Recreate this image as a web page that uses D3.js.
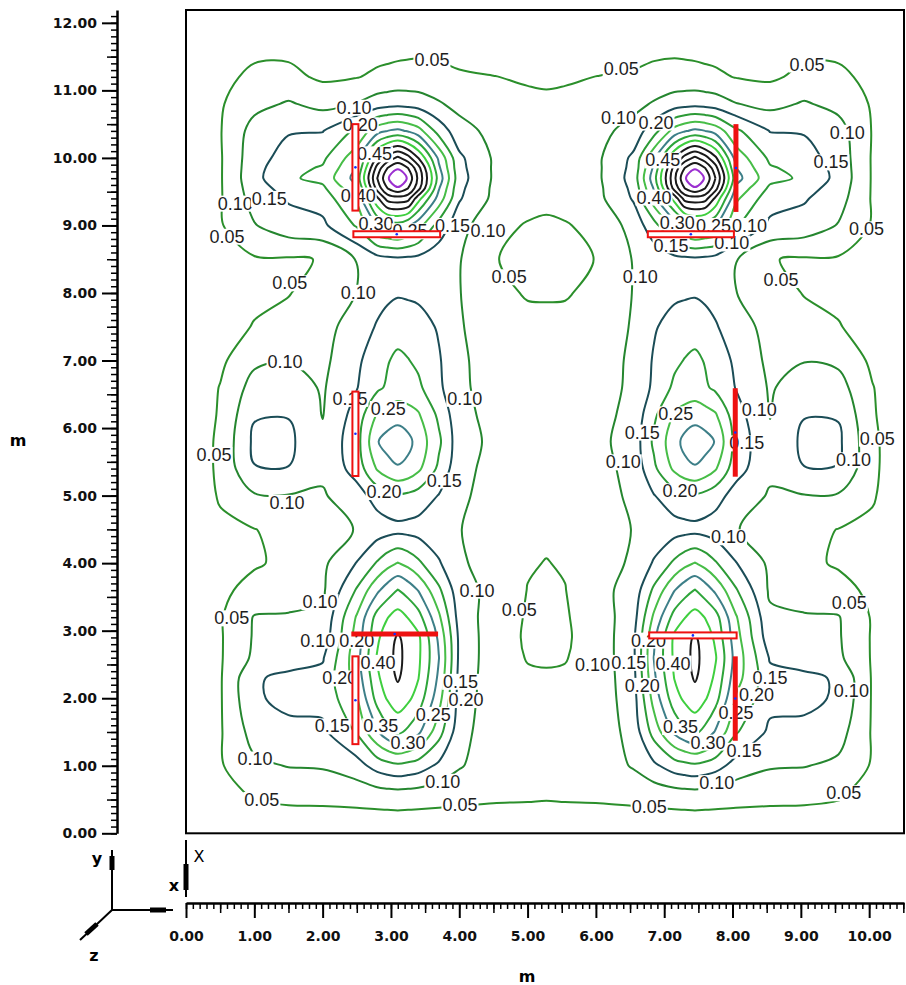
<!DOCTYPE html>
<html>
<head>
<meta charset="utf-8">
<title>Isolux contour</title>
<script src="https://cdn.jsdelivr.net/npm/d3@7"></script>
<style>
html,body{margin:0;padding:0;background:#fff;}
svg{display:block;}
</style>
</head>
<body>
<svg id="chart" width="906" height="985"></svg>
<script>
// ---------------- data ----------------
// grid knots in metres
const xKnots = [0,0.5,1.0,1.5,2.0,2.5,2.8,2.95,3.1,3.25,3.4,3.7,4.0,4.5,5.0,5.275,5.55,6.05,6.55,6.85,7.15,7.3,7.45,7.6,7.75,8.05,8.55,9.05,9.55,10.05,10.55];
const yKnots = [12.2,12.0,11.6,11.2,10.8,10.4,10.0,9.85,9.7,9.55,9.4,9.0,8.5,8.0,7.5,7.0,6.6,6.2,5.8,5.4,5.0,4.5,4.0,3.6,3.2,2.9,2.6,2.3,2.0,1.5,1.0,0.5,0.0];
// estimated value at each knot (rows follow yKnots, columns follow xKnots)
const illum = [
[0.005,0.01,0.012,0.013,0.013,0.013,0.014,0.0145,0.015,0.015,0.015,0.015,0.014,0.013,0.013, 0.013, 0.013,0.013,0.014,0.015,0.015,0.015,0.015,0.0145,0.014,0.013,0.013,0.013,0.012,0.01,0.005],
[0.008,0.014,0.018,0.02,0.02,0.02,0.021,0.0215,0.022,0.022,0.022,0.021,0.02,0.019,0.018, 0.018, 0.018,0.019,0.02,0.021,0.022,0.022,0.022,0.0215,0.021,0.02,0.02,0.02,0.018,0.014,0.008],
[0.012,0.025,0.038,0.04,0.034,0.033,0.036,0.038,0.04,0.041,0.042,0.04,0.034,0.028,0.026, 0.025, 0.026,0.028,0.034,0.04,0.042,0.041,0.04,0.038,0.036,0.033,0.034,0.04,0.038,0.025,0.012],
[0.015,0.035,0.062,0.062,0.042,0.048,0.058,0.061,0.064,0.066,0.068,0.064,0.056,0.051,0.045, 0.043, 0.045,0.051,0.056,0.064,0.068,0.066,0.064,0.061,0.058,0.048,0.042,0.062,0.062,0.035,0.015],
[0.015,0.045,0.085,0.105,0.085,0.102,0.125,0.131,0.135,0.131,0.125,0.105,0.085,0.07,0.06, 0.058, 0.06,0.07,0.085,0.105,0.125,0.131,0.135,0.131,0.125,0.102,0.085,0.105,0.085,0.045,0.015],
[0.015,0.047,0.12,0.146,0.148,0.21,0.28,0.30,0.31,0.295,0.27,0.18,0.12,0.085,0.07, 0.068, 0.07,0.085,0.12,0.18,0.27,0.295,0.31,0.30,0.28,0.21,0.148,0.146,0.12,0.047,0.015],
[0.015,0.045,0.13,0.17,0.19,0.28,0.46,0.52,0.56,0.52,0.45,0.29,0.16,0.095,0.075, 0.073, 0.075,0.095,0.16,0.29,0.45,0.52,0.56,0.52,0.46,0.28,0.19,0.17,0.13,0.045,0.015],
[0.015,0.045,0.133,0.185,0.205,0.30,0.52,0.60,0.64,0.60,0.52,0.31,0.165,0.095,0.073, 0.071, 0.073,0.095,0.165,0.31,0.52,0.60,0.64,0.60,0.52,0.30,0.205,0.185,0.133,0.045,0.015],
[0.015,0.045,0.135,0.192,0.215,0.32,0.55,0.64,0.72,0.64,0.54,0.33,0.17,0.095,0.07, 0.068, 0.07,0.095,0.17,0.33,0.54,0.64,0.72,0.64,0.55,0.32,0.215,0.192,0.135,0.045,0.015],
[0.015,0.045,0.128,0.17,0.19,0.29,0.52,0.60,0.64,0.60,0.52,0.305,0.162,0.092,0.067, 0.065, 0.067,0.092,0.162,0.305,0.52,0.60,0.64,0.60,0.52,0.29,0.19,0.17,0.128,0.045,0.015],
[0.015,0.045,0.12,0.155,0.17,0.26,0.44,0.52,0.53,0.52,0.42,0.28,0.155,0.09,0.065, 0.062, 0.065,0.09,0.155,0.28,0.42,0.52,0.53,0.52,0.44,0.26,0.17,0.155,0.12,0.045,0.015],
[0.012,0.045,0.097,0.13,0.14,0.205,0.305,0.32,0.33,0.305,0.27,0.18,0.12,0.062,0.047, 0.042, 0.047,0.062,0.12,0.18,0.27,0.305,0.33,0.32,0.305,0.205,0.14,0.13,0.097,0.045,0.012],
[0.01,0.035,0.045,0.045,0.052,0.103,0.13,0.137,0.14,0.138,0.135,0.12,0.103,0.052,0.04, 0.037, 0.04,0.052,0.103,0.12,0.135,0.138,0.14,0.137,0.13,0.103,0.052,0.045,0.045,0.035,0.01],
[0.01,0.035,0.042,0.048,0.07,0.101,0.13,0.14,0.145,0.143,0.14,0.12,0.102,0.06,0.047, 0.047, 0.047,0.06,0.102,0.12,0.14,0.143,0.145,0.14,0.13,0.101,0.07,0.048,0.042,0.035,0.01],
[0.01,0.035,0.052,0.065,0.085,0.12,0.155,0.168,0.18,0.176,0.17,0.145,0.105,0.07,0.06, 0.058, 0.06,0.07,0.105,0.145,0.17,0.176,0.18,0.168,0.155,0.12,0.085,0.065,0.052,0.035,0.01],
[0.01,0.04,0.09,0.098,0.088,0.14,0.18,0.197,0.21,0.202,0.19,0.155,0.11,0.075,0.06, 0.058, 0.06,0.075,0.11,0.155,0.19,0.202,0.21,0.197,0.18,0.14,0.088,0.098,0.09,0.04,0.01],
[0.01,0.052,0.12,0.125,0.095,0.148,0.19,0.207,0.22,0.217,0.21,0.16,0.11,0.08,0.06, 0.058, 0.06,0.08,0.11,0.16,0.21,0.217,0.22,0.207,0.19,0.148,0.095,0.125,0.12,0.052,0.01],
[0.01,0.055,0.146,0.148,0.098,0.17,0.255,0.27,0.28,0.27,0.255,0.19,0.115,0.085,0.065, 0.062, 0.065,0.085,0.115,0.19,0.255,0.27,0.28,0.27,0.255,0.17,0.098,0.148,0.146,0.055,0.01],
[0.01,0.06,0.16,0.16,0.11,0.18,0.297,0.32,0.33,0.315,0.28,0.21,0.12,0.09,0.07, 0.067, 0.07,0.09,0.12,0.21,0.28,0.315,0.33,0.32,0.297,0.18,0.11,0.16,0.16,0.06,0.01],
[0.01,0.06,0.148,0.149,0.11,0.17,0.255,0.28,0.295,0.285,0.26,0.19,0.115,0.085,0.065, 0.062, 0.065,0.085,0.115,0.19,0.26,0.285,0.295,0.28,0.255,0.17,0.11,0.149,0.148,0.06,0.01],
[0.01,0.055,0.095,0.098,0.095,0.13,0.17,0.185,0.195,0.19,0.18,0.148,0.11,0.08,0.06, 0.058, 0.06,0.08,0.11,0.148,0.18,0.19,0.195,0.185,0.17,0.13,0.095,0.098,0.095,0.055,0.01],
[0.01,0.04,0.049,0.062,0.075,0.103,0.125,0.131,0.135,0.133,0.13,0.12,0.102,0.075,0.058, 0.056, 0.058,0.075,0.102,0.12,0.13,0.133,0.135,0.131,0.125,0.103,0.075,0.062,0.049,0.04,0.01],
[0.01,0.035,0.045,0.06,0.09,0.152,0.205,0.232,0.252,0.235,0.21,0.155,0.11,0.072,0.053, 0.049, 0.053,0.072,0.11,0.155,0.21,0.235,0.252,0.232,0.205,0.152,0.09,0.06,0.045,0.035,0.01],
[0.01,0.04,0.065,0.08,0.092,0.205,0.29,0.325,0.352,0.33,0.298,0.21,0.12,0.085,0.049, 0.045, 0.049,0.085,0.12,0.21,0.298,0.33,0.352,0.325,0.29,0.205,0.092,0.08,0.065,0.04,0.01],
[0.01,0.045,0.103,0.104,0.11,0.255,0.37,0.398,0.42,0.398,0.37,0.26,0.13,0.075,0.046, 0.043, 0.046,0.075,0.13,0.26,0.37,0.398,0.42,0.398,0.37,0.255,0.11,0.104,0.103,0.045,0.01],
[0.01,0.045,0.105,0.11,0.12,0.27,0.39,0.43,0.455,0.435,0.41,0.29,0.14,0.07,0.045, 0.043, 0.045,0.07,0.14,0.29,0.41,0.435,0.455,0.43,0.39,0.27,0.12,0.11,0.105,0.045,0.01],
[0.01,0.045,0.11,0.13,0.145,0.28,0.405,0.435,0.462,0.435,0.41,0.302,0.14,0.07,0.048, 0.046, 0.048,0.07,0.14,0.302,0.41,0.435,0.462,0.435,0.405,0.28,0.145,0.13,0.11,0.045,0.01],
[0.01,0.045,0.145,0.16,0.165,0.27,0.39,0.43,0.455,0.43,0.402,0.29,0.135,0.07,0.055, 0.054, 0.055,0.07,0.135,0.29,0.402,0.43,0.455,0.43,0.39,0.27,0.165,0.16,0.145,0.045,0.01],
[0.01,0.045,0.145,0.16,0.165,0.245,0.37,0.405,0.43,0.41,0.38,0.27,0.13,0.07,0.056, 0.055, 0.056,0.07,0.13,0.27,0.38,0.41,0.43,0.405,0.37,0.245,0.165,0.16,0.145,0.045,0.01],
[0.01,0.045,0.12,0.14,0.14,0.205,0.295,0.335,0.36,0.34,0.31,0.22,0.12,0.068,0.055, 0.054, 0.055,0.068,0.12,0.22,0.31,0.34,0.36,0.335,0.295,0.205,0.14,0.14,0.12,0.045,0.01],
[0.01,0.045,0.09,0.102,0.105,0.13,0.17,0.182,0.19,0.184,0.175,0.14,0.105,0.07,0.055, 0.054, 0.055,0.07,0.105,0.14,0.175,0.184,0.19,0.182,0.17,0.13,0.105,0.102,0.09,0.045,0.01],
[0.008,0.035,0.051,0.055,0.056,0.058,0.06,0.061,0.062,0.061,0.06,0.058,0.056,0.053,0.052, 0.051, 0.052,0.053,0.056,0.058,0.06,0.061,0.062,0.061,0.06,0.058,0.056,0.055,0.051,0.035,0.008],
[0.005,0.01,0.02,0.025,0.025,0.025,0.025,0.025,0.025,0.025,0.025,0.025,0.025,0.025,0.025, 0.025, 0.025,0.025,0.025,0.025,0.025,0.025,0.025,0.025,0.025,0.025,0.025,0.025,0.02,0.01,0.005]
];
const levels = [0.05,0.10,0.15,0.20,0.25,0.30,0.35,0.40,0.45,0.50,0.55,0.60,0.65];
const levelColors = ["#2b8f2b","#25862f","#1b4d57","#2c9a36","#47bd47","#3d7f88","#2ea53a","#3fcf3f","#1a1a1a","#1a1a1a","#1a1a1a","#1a1a1a","#9b30d0"];
// contour labels: x (m), y (m), text
const labelX = [3.60,6.37,9.09, 2.46,2.55,2.76,2.52, 0.72,1.22,0.60, 2.78,3.28,4.42,3.90, 1.52,2.52,4.73,
  6.33,6.88,6.98,6.85,7.19,8.25,7.72,7.10,7.99,9.68,9.44,9.96,6.65,8.71,
  1.45,2.40,2.96,4.08,0.41,3.78,2.90,1.48,
  8.39,7.17,6.68,8.21,10.12,6.40,9.77,7.23,
  4.26,4.88,1.96,0.67,1.93,2.50,2.81,2.25,2.14,2.85,3.25,4.02,4.10,3.62,1.01,3.76,1.11,4.01,
  7.94,9.71,6.77,5.95,6.48,7.13,6.68,8.55,8.35,8.05,9.74,7.24,7.64,8.17,7.77,9.63,6.78];
const labelY = [11.45,11.33,11.39, 10.75,10.49,10.06,9.45, 9.33,9.40,8.84, 9.03,8.92,8.93,9.00, 8.15,8.01,8.24,
  10.60,10.53,9.97,9.42,9.05,9.00,9.00,8.71,8.74,10.38,9.94,8.95,8.24,8.20,
  6.98,6.44,6.29,6.44,5.61,5.23,5.06,4.90,
  6.27,6.21,5.94,5.78,5.85,5.50,5.53,5.07,
  3.60,3.31,3.43,3.19,2.86,2.86,2.53,2.30,1.59,1.59,1.35,2.25,1.98,1.76,1.10,0.77,0.50,0.42,
  4.39,3.41,2.86,2.50,2.53,2.52,2.19,2.30,2.05,1.79,2.12,1.58,1.35,1.23,0.75,0.60,0.39];
const labelText = ["0.05","0.05","0.05", "0.10","0.20","0.45","0.40", "0.10","0.15","0.05", "0.30","0.25","0.10","0.15", "0.05","0.10","0.05",
  "0.10","0.20","0.45","0.40","0.30","0.10","0.25","0.15","0.10","0.10","0.15","0.05","0.10","0.05",
  "0.10","0.15","0.25","0.10","0.05","0.15","0.20","0.10",
  "0.10","0.25","0.15","0.15","0.05","0.10","0.10","0.20",
  "0.10","0.05","0.10","0.05","0.10","0.20","0.40","0.20","0.15","0.35","0.30","0.15","0.20","0.25","0.10","0.10","0.05","0.05",
  "0.10","0.05","0.20","0.10","0.15","0.40","0.20","0.15","0.20","0.25","0.10","0.35","0.30","0.15","0.10","0.05","0.05"];
// luminaires (m)
const lampX1 = [2.48,2.45,8.05,6.76,2.48,8.04,2.42,2.48,6.78,8.04];
const lampY1 = [9.22,8.87,9.20,8.87,5.29,5.28,2.95,1.32,2.93,1.37];
const lampX2 = [2.48,3.72,8.05,8.02,2.48,8.04,3.69,2.48,8.06,8.04];
const lampY2 = [10.50,8.87,10.50,8.87,6.54,6.59,2.95,2.62,2.93,2.62];
const lampHollow = [true,true,false,true,true,false,false,true,true,false];
// axis ticks
const xTickValues = [0,1,2,3,4,5,6,7,8,9,10];
const yTickValues = [0,1,2,3,4,5,6,7,8,9,10,11,12];

// ---------------- drawing ----------------
const svg = d3.select("#chart");
const x = d3.scaleLinear().domain([0,10.51]).range([186,904]);
const y = d3.scaleLinear().domain([0,12.19]).range([833.3,10]);

svg.append("defs").append("clipPath").attr("id","plotClip")
  .append("rect").attr("x",186).attr("y",10).attr("width",718).attr("height",823.3);

// contours
const nx = xKnots.length, ny = yKnots.length;
const bands = d3.contours().size([nx,ny]).thresholds(levels)(illum.flat());
const along = (arr,u)=>{const i=Math.max(0,Math.min(arr.length-2,Math.floor(u)));return arr[i]+(arr[i+1]-arr[i])*(u-i);};
const ringLine = d3.line().curve(d3.curveCatmullRomClosed.alpha(0.5));
const gC = svg.append("g").attr("clip-path","url(#plotClip)");
bands.forEach(b=>{
  const k = levels.indexOf(b.value);
  b.coordinates.forEach(poly=>poly.forEach(ring=>{
    const pts = ring.slice(0,ring.length-1).map(p=>[x(along(xKnots,p[0]-0.5)), y(along(yKnots,p[1]-0.5))]);
    if(pts.length<3) return;
    gC.append("path").attr("d",ringLine(pts)).attr("fill","none")
      .attr("stroke",levelColors[k]).attr("stroke-width",2).attr("stroke-linejoin","round");
  }));
});

// labels
const gL = svg.append("g").attr("clip-path","url(#plotClip)");
labelText.forEach((t,i)=>{
  const g = gL.append("g");
  const txt = g.append("text").attr("x",x(labelX[i])).attr("y",y(labelY[i])).attr("dy","0.36em")
    .attr("text-anchor","middle").attr("font-family","Liberation Sans, Arial, sans-serif")
    .attr("font-size",18).attr("fill","#1e1e1e").text(t);
  const bb = txt.node().getBBox();
  g.insert("rect","text").attr("x",bb.x-1).attr("y",bb.y+2).attr("width",bb.width+2).attr("height",bb.height-4).attr("fill","#fff");
});

// frame
svg.append("rect").attr("x",186).attr("y",10).attr("width",718).attr("height",823.3)
  .attr("fill","none").attr("stroke","#000").attr("stroke-width",2);

// luminaires
const gLamp = svg.append("g");
lampX1.forEach((_,i)=>{
  const px1=x(lampX1[i]), py1=y(lampY1[i]), px2=x(lampX2[i]), py2=y(lampY2[i]);
  const vertical = Math.abs(px1-px2)<1;
  if(lampHollow[i]){
    if(vertical){
      gLamp.append("rect").attr("x",px1-3).attr("y",Math.min(py1,py2)).attr("width",6).attr("height",Math.abs(py2-py1))
        .attr("fill","#fff").attr("stroke","#ee1111").attr("stroke-width",2);
    } else {
      gLamp.append("rect").attr("x",Math.min(px1,px2)).attr("y",py1-3).attr("width",Math.abs(px2-px1)).attr("height",6)
        .attr("fill","#fff").attr("stroke","#ee1111").attr("stroke-width",2);
    }
  } else {
    gLamp.append("line").attr("x1",px1).attr("y1",py1).attr("x2",px2).attr("y2",py2)
      .attr("stroke","#ee1111").attr("stroke-width",5);
  }
  gLamp.append("circle").attr("cx",(px1+px2)/2).attr("cy",(py1+py2)/2).attr("r",1.3).attr("fill","#1030ff");
});

// axes
const fontAxis = "DejaVu Sans, Verdana, sans-serif";
function styleAxis(g){
  g.selectAll("text").attr("font-family",fontAxis).attr("font-weight","bold").attr("font-size",14).attr("fill","#111");
  g.selectAll("line").attr("stroke","#000").attr("stroke-width",2);
}
const yMinor = d3.range(0,12.15,0.1);
const yHalf = d3.range(0.5,12,1);
const gy = svg.append("g").attr("transform","translate(117,0)");
gy.append("g").call(d3.axisLeft(y).tickValues(yMinor).tickSize(6).tickSizeOuter(0).tickFormat(""))
  .call(g=>{g.selectAll("line").attr("stroke","#000").attr("stroke-width",1.5);g.select(".domain").attr("stroke","#000").attr("stroke-width",2.5);});
gy.append("g").call(d3.axisLeft(y).tickValues(yHalf).tickSize(10).tickFormat(""))
  .call(g=>{g.selectAll("line").attr("stroke","#000").attr("stroke-width",1.5);g.select(".domain").remove();});
gy.append("g").call(d3.axisLeft(y).tickValues(yTickValues).tickSize(15).tickPadding(5).tickFormat(d3.format(".2f")))
  .call(styleAxis).call(g=>g.select(".domain").remove());

const xMinor = d3.range(0,10.55,0.1);
const xHalf = d3.range(0.5,10.6,1);
const gx = svg.append("g").attr("transform","translate(0,903)");
gx.append("g").call(d3.axisBottom(x).tickValues(xMinor).tickSize(6).tickSizeOuter(0).tickFormat(""))
  .call(g=>{g.selectAll("line").attr("stroke","#000").attr("stroke-width",1.5);g.select(".domain").attr("stroke","#000").attr("stroke-width",2.5);});
gx.append("g").call(d3.axisBottom(x).tickValues(xHalf).tickSize(10).tickFormat(""))
  .call(g=>{g.selectAll("line").attr("stroke","#000").attr("stroke-width",1.5);g.select(".domain").remove();});
gx.append("g").call(d3.axisBottom(x).tickValues(xTickValues).tickSize(15).tickPadding(13).tickFormat(d3.format(".2f")))
  .call(styleAxis).call(g=>g.select(".domain").remove());

// axis titles
svg.append("text").attr("x",18).attr("y",446).attr("text-anchor","middle").attr("font-family",fontAxis)
  .attr("font-weight","bold").attr("font-size",16).text("m");
svg.append("text").attr("x",527).attr("y",982).attr("text-anchor","middle").attr("font-family",fontAxis)
  .attr("font-weight","bold").attr("font-size",16).text("m");

// orientation icon
const gi = svg.append("g").attr("stroke","#000").attr("stroke-width",2);
gi.append("line").attr("x1",112).attr("y1",910).attr("x2",112).attr("y2",850);
gi.append("line").attr("x1",112).attr("y1",910).attr("x2",173).attr("y2",910);
gi.append("line").attr("x1",112).attr("y1",910).attr("x2",80).attr("y2",940);
gi.append("line").attr("x1",112).attr("y1",856).attr("x2",112).attr("y2",870).attr("stroke-width",5);
gi.append("line").attr("x1",150).attr("y1",910).attr("x2",166).attr("y2",910).attr("stroke-width",5);
gi.append("line").attr("x1",86).attr("y1",934).attr("x2",97).attr("y2",924).attr("stroke-width",5);
gi.append("line").attr("x1",186).attr("y1",840).attr("x2",186).attr("y2",897);
gi.append("line").attr("x1",186).attr("y1",864).attr("x2",186).attr("y2",890).attr("stroke-width",5);
const iconText = (t,px,py,bold)=>svg.append("text").attr("x",px).attr("y",py).attr("text-anchor","middle")
  .attr("font-family",fontAxis).attr("font-weight",bold?"bold":"normal").attr("font-size",16).text(t);
iconText("y",97,864,true);
iconText("z",94,961,true);
iconText("X",199,862,false);
iconText("x",174,891,true);
</script>
</body>
</html>
